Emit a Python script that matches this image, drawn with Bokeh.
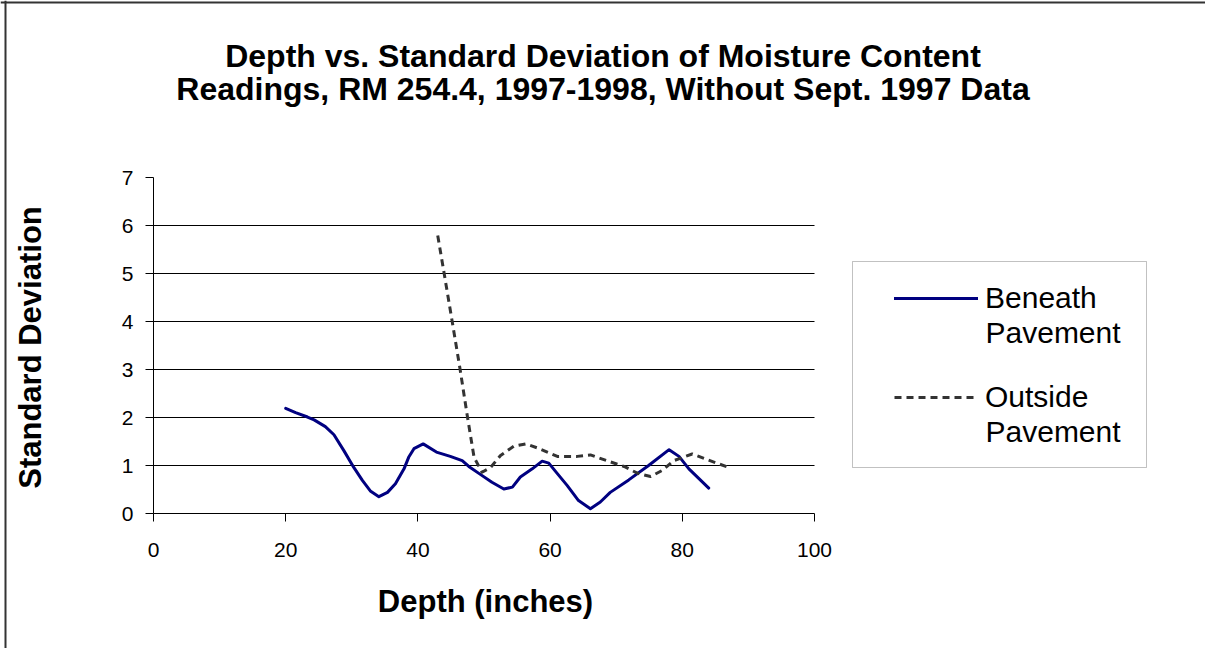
import math
from bokeh.plotting import figure
from bokeh.models import Range1d, FixedTicker, Legend, LegendItem, Label, BoxAnnotation, Span
from bokeh.embed import file_html
from bokeh.resources import INLINE

# ---- data ----
beneath_depth = [20.0, 21.5, 23.3, 24.3, 26.0, 27.3, 28.8, 30.3, 31.6, 32.8, 34.1, 35.4,
                 36.6, 37.9, 38.6, 39.4, 40.8, 42.8, 44.9, 46.7, 47.7, 49.5, 51.2, 53.0,
                 54.3, 55.5, 57.3, 58.8, 59.8, 61.1, 62.6, 64.3, 66.1, 67.6, 69.1, 71.9,
                 74.9, 78.0, 79.5, 81.0, 84.0]
beneath_sd = [2.19, 2.10, 2.01, 1.95, 1.81, 1.64, 1.31, 0.96, 0.69, 0.47, 0.35, 0.44,
              0.62, 0.93, 1.17, 1.35, 1.45, 1.28, 1.19, 1.10, 0.98, 0.81, 0.65, 0.51,
              0.55, 0.76, 0.93, 1.09, 1.05, 0.83, 0.58, 0.27, 0.10, 0.24, 0.44, 0.70,
              1.00, 1.33, 1.19, 0.93, 0.53]

outside_depth = [43.0, 43.9, 45.2, 46.4, 47.5, 48.5, 49.7, 51.0, 52.5, 54.5, 56.3, 58.0,
                 61.1, 64.1, 66.1, 68.6, 71.2, 73.2, 75.2, 77.0, 78.7, 81.5, 83.8, 87.0]
outside_sd = [5.79, 5.06, 3.99, 2.99, 2.01, 1.17, 0.86, 0.96, 1.21, 1.40, 1.45, 1.37,
              1.19, 1.19, 1.22, 1.10, 0.98, 0.84, 0.77, 0.90, 1.10, 1.24, 1.12, 0.96]

x_ticks = [0, 20, 40, 60, 80, 100]
y_ticks = [0, 1, 2, 3, 4, 5, 6, 7]
grid_ticks = [1, 2, 3, 4, 5, 6]
x_limits = (0, 100)
y_limits = (0, 7)

title_lines = ["Depth vs. Standard Deviation of Moisture Content",
               "Readings, RM 254.4, 1997-1998, Without Sept. 1997 Data"]
x_title = "Depth (inches)"
y_title = "Standard Deviation"
series_names = ["Beneath", "Outside"]
series_second_line = ["Pavement", "Pavement"]

FONT = "Liberation Sans"

# ---- layout (canvas pixels) ----
W, H = 1205, 648
PLOT_L, PLOT_R, PLOT_T, PLOT_B = 153, 814, 177, 513   # plot area in canvas px
XS = (PLOT_R - PLOT_L) / (x_limits[1] - x_limits[0])
YS = (PLOT_B - PLOT_T) / (y_limits[1] - y_limits[0])


def X(px):
    return x_limits[0] + (px - PLOT_L) / XS


def Y(py):
    return y_limits[0] + (PLOT_B - py) / YS


p = figure(width=W, height=H, output_backend="svg", toolbar_location=None,
           x_range=Range1d(X(0), X(W)), y_range=Range1d(Y(H), Y(0)),
           min_border=0, min_border_left=0, min_border_right=0,
           min_border_top=0, min_border_bottom=0)
p.background_fill_color = "white"
p.border_fill_color = "white"
p.outline_line_color = None

# axes (library axes pinned to the chart's data origin)
for ax in (p.xaxis, p.yaxis):
    ax.axis_line_color = "#000000"
    ax.axis_line_width = 1
    ax.major_tick_line_color = "#000000"
    ax.major_tick_in = 0
    ax.major_tick_out = 8
    ax.minor_tick_line_color = None
    ax.major_label_text_font = FONT
    ax.major_label_text_font_size = "21px"
    ax.major_label_text_color = "#000000"

p.xaxis.ticker = FixedTicker(ticks=x_ticks)
p.yaxis.ticker = FixedTicker(ticks=y_ticks)
p.xaxis.fixed_location = y_limits[0]
p.yaxis.fixed_location = x_limits[0]
p.xaxis.bounds = x_limits
p.yaxis.bounds = y_limits
p.xaxis.major_label_standoff = 21
p.yaxis.major_label_standoff = 12

p.xgrid.visible = False
g = p.ygrid[0]
g.ticker = FixedTicker(ticks=grid_ticks)
g.grid_line_color = "#000000"
g.grid_line_width = 1
if "cross_bounds" in g.properties():
    g.cross_bounds = x_limits
else:
    g.visible = False
    p.segment(x0=[x_limits[0]] * len(grid_ticks), x1=[x_limits[1]] * len(grid_ticks),
              y0=grid_ticks, y1=grid_ticks, line_color="#000000", line_width=1)

# series
r1 = p.line(beneath_depth, beneath_sd, line_color="#000080", line_width=3,
            line_join="round", line_cap="round")
r2 = p.line(outside_depth, outside_sd, line_color="#333333", line_width=3,
            line_dash="7 5", line_join="round")

# axis titles
p.add_layout(Label(x=X(485), y=Y(601), text=x_title, text_align="center",
                   text_baseline="middle", text_font=FONT, text_font_size="31px",
                   text_font_style="bold", text_color="#000000"))
p.add_layout(Label(x=X(30), y=Y(347), text=y_title, angle=math.pi / 2,
                   text_align="center", text_baseline="middle", text_font=FONT,
                   text_font_size="31px", text_font_style="bold", text_color="#000000"))

# chart title (two lines)
for txt, py in zip(title_lines, [55, 88]):
    p.add_layout(Label(x=X(602.5), y=Y(py), text=txt, text_align="center",
                       text_baseline="middle", text_font=FONT, text_font_size="32px",
                       text_font_style="bold", text_color="#000000"))

# legend box
p.add_layout(BoxAnnotation(left=X(852), right=X(1146), top=Y(261), bottom=Y(467),
                           fill_alpha=0, line_color="#333333", line_width=1))

legend = Legend(items=[LegendItem(label=series_names[0], renderers=[r1]),
                       LegendItem(label=series_names[1], renderers=[r2])],
                location=(894, H - 414), glyph_width=84, glyph_height=34,
                label_height=34, label_standoff=7, spacing=65, padding=0, margin=0,
                border_line_alpha=0, background_fill_alpha=0,
                label_text_font=FONT, label_text_font_size="30px",
                label_text_color="#000000")
p.add_layout(legend, "center")

for txt, py in zip(series_second_line, [332, 431]):
    p.add_layout(Label(x=X(985), y=Y(py), text=txt, text_align="left",
                       text_baseline="middle", text_font=FONT,
                       text_font_size="30px", text_color="#000000"))

# outer chart border (only its left and top edges fall inside the picture)
p.add_layout(Span(location=X(5), dimension="height", line_color="#333333", line_width=2))
p.add_layout(Span(location=Y(2), dimension="width", line_color="#333333", line_width=2))

open("out.html", "w").write(file_html(p, INLINE))
